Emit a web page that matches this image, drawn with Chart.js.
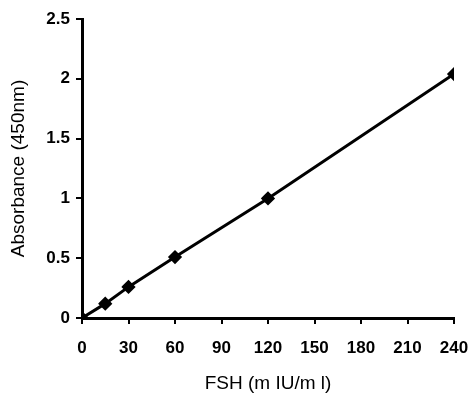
<!DOCTYPE html>
<html lang="en">
<head>
    <meta charset="UTF-8">
    <title>FSH standard curve</title>
    <style>
        html, body { margin: 0; padding: 0; background: #fff; }
        #wrap { width: 471px; height: 395px; }
    </style>
</head>
<body>
    <div id="wrap"><canvas id="fshChart"></canvas></div>

    <script src="https://cdn.jsdelivr.net/npm/chart.js"></script>
    <script>
        // Dados da curva padrão
        const fshDoses = [0, 15, 30, 60, 120, 240];
        const absorbance = [0, 0.12, 0.26, 0.51, 1.0, 2.04];
        const xTicks = [0, 30, 60, 90, 120, 150, 180, 210, 240];
        const yTicks = [0, 0.5, 1, 1.5, 2, 2.5];

        const tickFont = { family: 'Liberation Sans', size: 17, weight: 'bold' };
        const titleFont = { family: 'Liberation Sans', size: 19 };

        const ctx = document.getElementById('fshChart').getContext('2d');
        new Chart(ctx, {
            type: 'scatter',
            data: {
                datasets: [{
                    data: fshDoses.map((x, i) => ({ x: x, y: absorbance[i] })),
                    showLine: true,
                    borderColor: '#000',
                    borderWidth: 3,
                    backgroundColor: '#000',
                    pointStyle: 'rectRot',
                    pointRadius: 5,
                    tension: 0
                }]
            },
            options: {
                responsive: true,
                maintainAspectRatio: false,
                animation: false,
                layout: { padding: { top: 19, right: 17, left: 0, bottom: 0 } },
                plugins: { legend: { display: false }, tooltip: { enabled: false } },
                scales: {
                    x: {
                        type: 'linear',
                        min: 0, max: 240,
                        afterBuildTicks: s => { s.ticks = xTicks.map(v => ({ value: v })); },
                        afterFit: s => { s.height = 77; s.paddingRight = 0; s.paddingLeft = 0; },
                        border: { color: '#000', width: 3 },
                        grid: { drawOnChartArea: false, drawTicks: true, tickLength: 6, color: '#000', lineWidth: 2 },
                        ticks: { color: '#000', font: tickFont, padding: 14, maxRotation: 0 },
                        title: {
                            display: true,
                            text: 'FSH (m IU/m l)',
                            color: '#000',
                            font: titleFont,
                            padding: { top: 4, bottom: 0 }
                        }
                    },
                    y: {
                        min: 0, max: 2.5,
                        afterBuildTicks: s => { s.ticks = yTicks.map(v => ({ value: v })); },
                        afterFit: s => { s.width = 82; s.paddingTop = 0; s.paddingBottom = 0; },
                        border: { color: '#000', width: 3 },
                        grid: { drawOnChartArea: false, drawTicks: true, tickLength: 6, color: '#000', lineWidth: 2 },
                        ticks: { color: '#000', font: tickFont, padding: 6, callback: v => String(v) },
                        title: {
                            display: true,
                            text: 'Absorbance (450nm)',
                            color: '#000',
                            font: titleFont,
                            padding: { top: 7, bottom: 0 }
                        }
                    }
                }
            }
        });
    </script>
</body>
</html>
